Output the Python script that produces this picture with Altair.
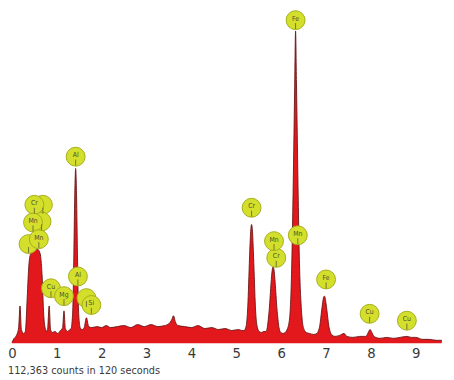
import altair as alt
import pandas as pd

# Spectrum (energy in keV, counts in arbitrary units)
energy_kev = [
    0.00, 0.05, 0.10, 0.15, 0.18, 0.21, 0.26, 0.30, 0.34, 0.38,
    0.43, 0.50, 0.57, 0.63, 0.67, 0.71, 0.75, 0.79, 0.83, 0.86,
    0.90, 0.96, 1.02, 1.08, 1.13, 1.16, 1.19, 1.24, 1.29, 1.32,
    1.34, 1.36, 1.38, 1.40, 1.42, 1.44, 1.46, 1.48, 1.50, 1.53,
    1.57, 1.61, 1.66, 1.71, 1.78, 1.90, 2.00, 2.10, 2.20, 2.35,
    2.50, 2.65, 2.80, 2.95, 3.10, 3.25, 3.40, 3.50, 3.56, 3.60,
    3.64, 3.70, 3.85, 4.00, 4.15, 4.30, 4.45, 4.60, 4.75, 4.90,
    5.05, 5.12, 5.17, 5.21, 5.24, 5.26, 5.28, 5.30, 5.32, 5.34,
    5.36, 5.38, 5.40, 5.42, 5.44, 5.47, 5.51, 5.56, 5.61, 5.66,
    5.69, 5.72, 5.74, 5.76, 5.78, 5.80, 5.82, 5.84, 5.86, 5.88,
    5.90, 5.92, 5.95, 5.99, 6.04, 6.09, 6.14, 6.17, 6.20, 6.22,
    6.24, 6.26, 6.28, 6.30, 6.32, 6.34, 6.36, 6.38, 6.40, 6.42,
    6.44, 6.47, 6.51, 6.56, 6.63, 6.72, 6.80, 6.83, 6.86, 6.88,
    6.90, 6.92, 6.94, 6.96, 6.98, 7.00, 7.02, 7.04, 7.06, 7.09,
    7.13, 7.20, 7.30, 7.40, 7.46, 7.60, 7.75, 7.88, 7.92, 7.95,
    7.98, 8.01, 8.04, 8.08, 8.20, 8.35, 8.50, 8.65, 8.80, 8.90,
    9.00, 9.15, 9.30, 9.45, 9.58,
]
counts = [
    10, 50, 80, 160, 380, 140, 100, 120, 460, 810,
    930, 970, 960, 910, 710, 280, 140, 120, 380, 140,
    110, 120, 100, 130, 160, 330, 150, 120, 140, 150,
    220, 400, 900, 1500, 1780, 1500, 900, 400, 220, 150,
    140, 160, 260, 170, 160, 170, 160, 180, 160, 170,
    180, 160, 190, 170, 190, 170, 180, 200, 240, 280,
    220, 180, 170, 160, 180, 150, 160, 140, 150, 130,
    140, 130, 130, 160, 260, 420, 680, 940, 1140, 1210,
    1140, 930, 680, 420, 260, 160, 120, 110, 120, 120,
    160, 280, 380, 520, 650, 745, 780, 745, 650, 520,
    380, 280, 160, 110, 100, 110, 150, 200, 330, 540,
    900, 1400, 1980, 2600, 3180, 2650, 2050, 1450, 950, 620,
    420, 230, 140, 110, 100, 90, 100, 130, 180, 250,
    330, 400, 460, 480, 460, 400, 330, 250, 180, 120,
    85, 70, 80, 100, 70, 60, 70, 70, 90, 120,
    140, 120, 90, 65, 50, 60, 50, 60, 70, 60,
    60, 40, 40, 30, 30,
]
assert len(energy_kev) == len(counts)

# Element markers (drawn in this order, back circles first)
label_text = ["", "", "", "Cr", "Mn", "Mn", "Cu", "Mg", "Al", "", "Si",
              "Al", "Cr", "Cr", "Mn", "Mn", "Fe", "Fe", "Cu", "Cu"]
label_kev = [0.69, 0.66, 0.37, 0.50, 0.47, 0.60, 0.87, 1.16, 1.47, 1.66, 1.77,
             1.42, 5.34, 5.89, 5.84, 6.37, 6.32, 7.00, 7.97, 8.80]
label_counts = [1410, 1240, 1010, 1410, 1230, 1060, 560, 480, 680, 460, 390,
                1900, 1380, 870, 1040, 1100, 3290, 650, 300, 230]

tick_values = [0, 1, 2, 3, 4, 5, 6, 7, 8, 9]
footer_text = ["112,363 counts in 120 seconds"]

spec = pd.DataFrame({"keV": energy_kev, "counts": counts})
labels = pd.DataFrame({"el": label_text, "keV": label_kev, "counts": label_counts,
                       "order": list(range(len(label_text)))})
footer = pd.DataFrame({"t": footer_text})

FONT = "DejaVu Sans Condensed, Liberation Sans Narrow, sans-serif"

xscale = alt.Scale(domain=[-0.0875, 9.672], nice=False, zero=False)
yscale = alt.Scale(domain=[-340, 3380], nice=False, zero=False)

x = alt.X("keV:Q", scale=xscale,
          axis=alt.Axis(values=tick_values, format="d", title=None, grid=False,
                        domain=False, ticks=False, labelFlush=False,
                        labelFont=FONT, labelFontSize=15, labelColor="#3a3a3a",
                        labelPadding=3, offset=-34))
y = alt.Y("counts:Q", scale=yscale, axis=None)

area = alt.Chart(spec).mark_area(color="#e3181d", interpolate="monotone", opacity=1).encode(x=x, y=y)
edge = alt.Chart(spec).mark_line(color="#6a1414", strokeWidth=0.9,
                                 interpolate="monotone").encode(
    x=alt.X("keV:Q", scale=xscale), y=alt.Y("counts:Q", scale=yscale))

circles = alt.Chart(labels).mark_circle(size=370, color="#d3df2b", stroke="#a4ad1c",
                                        strokeWidth=1, opacity=1).encode(
    x=alt.X("keV:Q", scale=xscale), y=alt.Y("counts:Q", scale=yscale),
    order=alt.Order("order:Q"))
pins = alt.Chart(labels).mark_rule(color="#5a5a3a", strokeWidth=0.8,
                                   yOffset=3, y2Offset=9).encode(
    x=alt.X("keV:Q", scale=xscale), y=alt.Y("counts:Q", scale=yscale),
    y2="counts:Q")
texts = alt.Chart(labels).mark_text(fontSize=7, color="#4d4d30", font=FONT,
                                    dy=-1.5, baseline="middle").encode(
    x=alt.X("keV:Q", scale=xscale), y=alt.Y("counts:Q", scale=yscale),
    text="el:N")

foot = alt.Chart(footer).mark_text(align="left", baseline="alphabetic", fontSize=11,
                                   font=FONT, color="#3a3a3a").encode(
    x=alt.value(0), y=alt.value(369), text="t:N")

chart = alt.layer(area, edge, circles, pins, texts, foot).properties(
    width=446, height=372,
    autosize=alt.AutoSizeParams(type="none"),
    padding=0,
).configure_view(stroke=None)

chart.save("out.html", embed_options={"renderer": "svg", "actions": False})
